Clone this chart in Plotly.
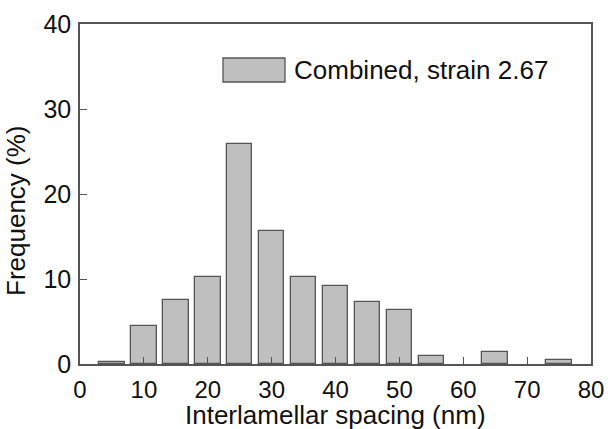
import plotly.graph_objects as go

# Data
spacing_nm = [5, 10, 15, 20, 25, 30, 35, 40, 45, 50, 55, 60, 65, 70, 75]
frequency_pct = [0.2, 4.5, 7.5, 10.2, 25.9, 15.7, 10.2, 9.2, 7.3, 6.3, 0.95, None, 1.45, None, 0.47]
series_name = "Combined, strain 2.67"
x_ticks = [0, 10, 20, 30, 40, 50, 60, 70, 80]
y_ticks = [0, 10, 20, 30, 40]

FILL = "#bfbfbf"
EDGE = "#555555"
AXIS = "#555555"
FONT = "Liberation Sans, Arial, sans-serif"

fig = go.Figure()
fig.add_trace(go.Bar(
    x=spacing_nm, y=frequency_pct, width=4, name=series_name,
    marker=dict(color=FILL, line=dict(color=EDGE, width=1.3)),
    showlegend=False,
))

fig.update_layout(
    width=608, height=429,
    margin=dict(l=80, r=17, t=24, b=65, autoexpand=False),
    paper_bgcolor="white", plot_bgcolor="white",
    font=dict(family=FONT, size=25, color="#111111"),
    bargap=0,
)
fig.update_xaxes(
    range=[0, 80], tickvals=x_ticks, ticks="inside", ticklen=7, tickwidth=1.3,
    tickcolor=AXIS, showline=True, linecolor=AXIS, linewidth=1.5, mirror=True,
    showgrid=False, zeroline=False, tickfont=dict(size=24),
    ticklabelstandoff=3, automargin=False,
)
fig.update_yaxes(
    range=[0, 40], tickvals=y_ticks, ticks="inside", ticklen=7, tickwidth=1.3,
    tickcolor=AXIS, showline=True, linecolor=AXIS, linewidth=1.5, mirror=True,
    showgrid=False, zeroline=False, tickfont=dict(size=25),
    ticklabelstandoff=2, automargin=False,
)

# axis titles
fig.add_annotation(text="Interlamellar spacing (nm)", xref="paper", yref="paper",
                   x=0.5, y=0, yshift=-51, xanchor="center", yanchor="middle",
                   showarrow=False, font=dict(size=26))
fig.add_annotation(text="Frequency (%)", xref="paper", yref="paper",
                   x=0, xshift=-64, y=0.5, yshift=-17, textangle=-90,
                   xanchor="center", yanchor="middle",
                   showarrow=False, font=dict(size=26))

# legend (swatch + label)
fig.add_shape(type="rect", xref="paper", yref="paper",
              x0=(223 - 80) / 511, x1=(285 - 80) / 511,
              y0=(364 - 82) / 340, y1=(364 - 58) / 340,
              fillcolor=FILL, line=dict(color=EDGE, width=1.3))
fig.add_annotation(text=series_name, xref="paper", yref="paper",
                   x=(292 - 80) / 511, y=(364 - 70) / 340,
                   xanchor="left", yanchor="middle", showarrow=False,
                   font=dict(size=26))

fig.write_html("out.html", config={"displayModeBar": False},
               post_script="document.body.style.margin='0';document.body.style.overflow='hidden';")
